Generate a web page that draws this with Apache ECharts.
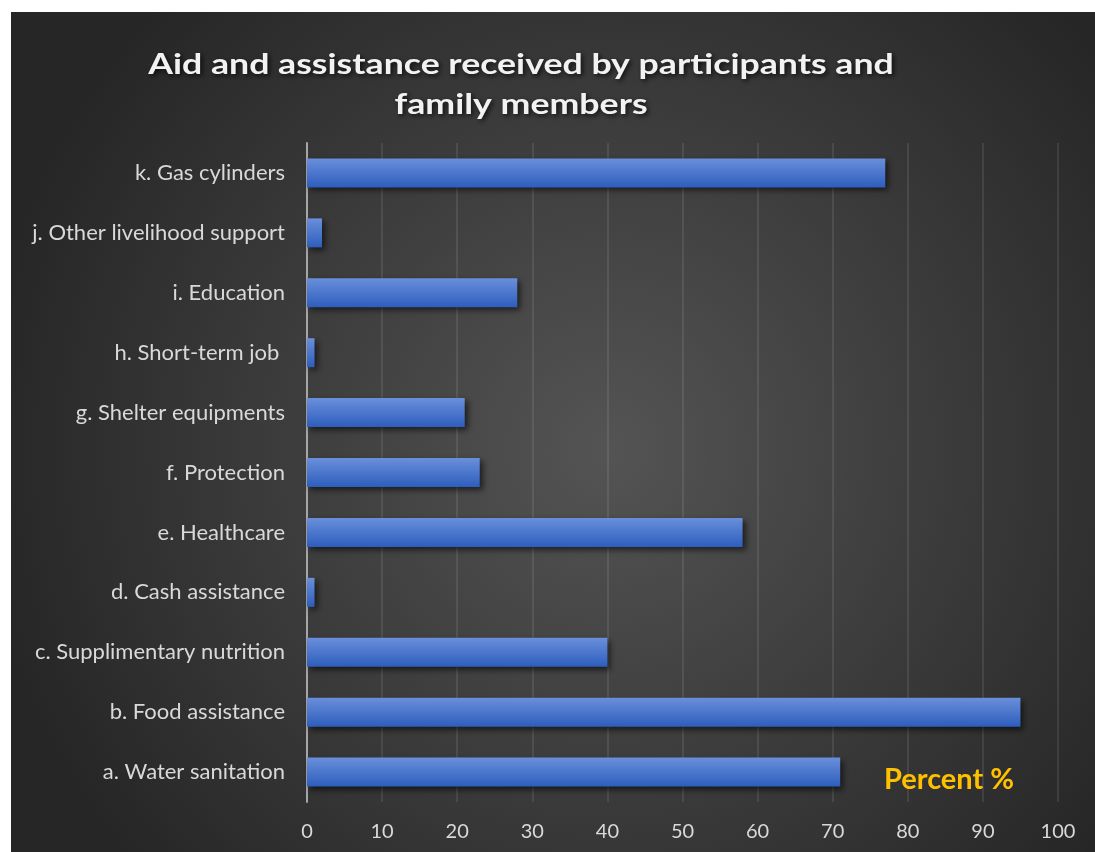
<!DOCTYPE html>
<html>
<head>
<meta charset="utf-8">
<style>
  html, body { margin: 0; padding: 0; background: #ffffff; }
  #chart { position: absolute; left: 11px; top: 12px; width: 1084px; height: 840px; }
</style>
<script src="https://cdn.jsdelivr.net/npm/echarts@6/dist/echarts.min.js"></script>
</head>
<body>
<div id="chart"></div>
<script>
// Aid categories, listed bottom to top
const categories = [
  'a. Water sanitation',
  'b. Food assistance',
  'c. Supplimentary nutrition',
  'd. Cash assistance',
  'e. Healthcare',
  'f. Protection',
  'g. Shelter equipments',
  'h. Short-term job ',
  'i. Education',
  'j. Other livelihood support',
  'k. Gas cylinders'
];
// Share of respondents (percent)
const percentValues = [71, 95, 40, 1, 58, 23, 21, 1, 28, 2, 77];
const axisMin = 0, axisMax = 100, axisStep = 10;
const titleText = 'Aid and assistance received by participants and\nfamily members';
const unitText = 'Percent %';

const chart = echarts.init(document.getElementById('chart'), null, { renderer: 'canvas' });
const labelFont = 'Lato, "Open Sans", sans-serif';

chart.setOption({
  animation: false,
  backgroundColor: {
    type: 'radial', x: 0.55, y: 0.52, r: 0.75,
    colorStops: [
      { offset: 0, color: '#545454' },
      { offset: 1, color: '#262626' }
    ]
  },
  grid: { left: 296, right: 37, top: 131, bottom: 50, containLabel: false },
  xAxis: {
    type: 'value', min: axisMin, max: axisMax, interval: axisStep,
    axisLine: { show: false }, axisTick: { show: false },
    axisLabel: { color: '#d9d9d9', fontSize: 20, fontFamily: labelFont, margin: 20 },
    splitLine: { show: true, lineStyle: { color: 'rgba(255,255,255,0.09)', width: 2 } }
  },
  yAxis: {
    type: 'category', data: categories,
    axisLine: { show: true, lineStyle: { color: '#a6a6a6', width: 2 } },
    axisTick: { show: false },
    axisLabel: { color: '#d9d9d9', fontSize: 22, fontFamily: labelFont, margin: 22 },
    splitLine: { show: false }
  },
  series: [{
    type: 'bar',
    data: percentValues,
    barWidth: 29,
    itemStyle: {
      color: {
        type: 'linear', x: 0, y: 0, x2: 0, y2: 1,
        colorStops: [
          { offset: 0, color: '#6a8fdb' },
          { offset: 1, color: '#2d5ebd' }
        ]
      },
      shadowColor: 'rgba(0,0,0,0.6)', shadowBlur: 6,
      shadowOffsetX: 3, shadowOffsetY: 3
    }
  }],
  graphic: [
    {
      // spaced-out heading, widened around its centre
      type: 'text', x: 510, y: 33, scaleX: 1.23, z: 10,
      style: {
        text: titleText, align: 'center', verticalAlign: 'top',
        fill: '#f2f2f2', font: 'bold 29px ' + labelFont, lineHeight: 40,
        textShadowColor: 'rgba(0,0,0,0.75)', textShadowBlur: 5,
        textShadowOffsetX: 2, textShadowOffsetY: 2
      }
    },
    {
      type: 'text', x: 873, y: 768, z: 10,
      style: {
        text: unitText, align: 'left', verticalAlign: 'middle',
        fill: '#ffc000', font: 'bold 29px ' + labelFont
      }
    }
  ]
});
</script>
</body>
</html>
